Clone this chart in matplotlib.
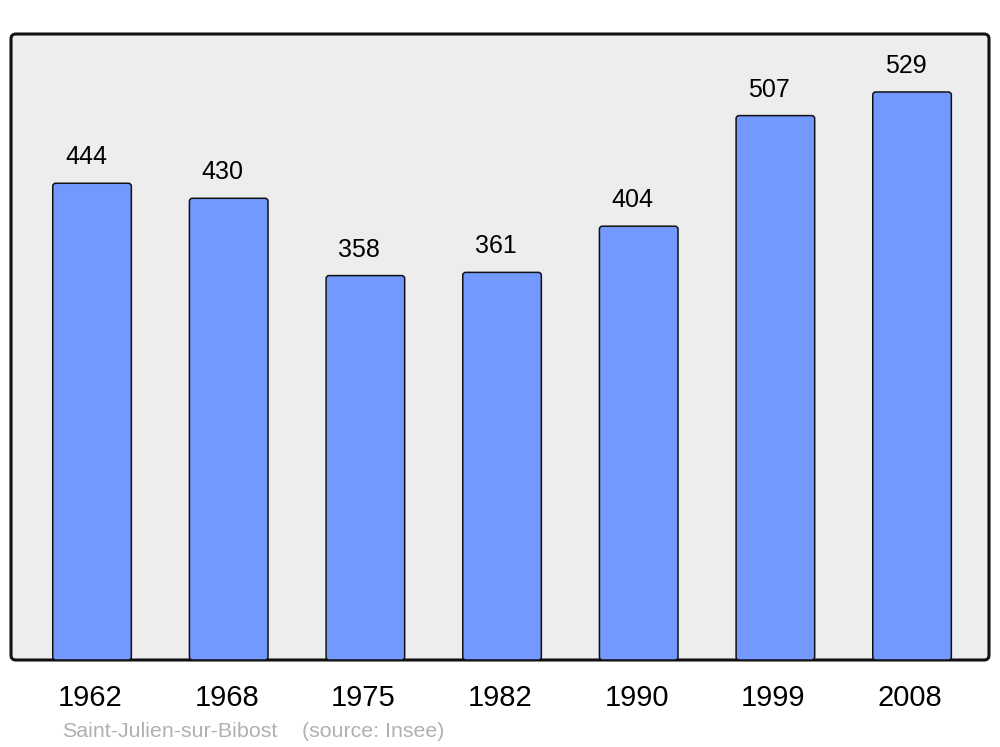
import matplotlib
matplotlib.use("Agg")
import matplotlib.pyplot as plt
import matplotlib.transforms as mtransforms
from matplotlib.patches import FancyBboxPatch

plt.rcParams['font.family'] = ['Liberation Sans', 'DejaVu Sans']

years = ["1962", "1968", "1975", "1982", "1990", "1999", "2008"]
population = [444, 430, 358, 361, 404, 507, 529]
commune = "Saint-Julien-sur-Bibost"
source = "(source: Insee)"

W, H = 1000, 747
fig = plt.figure(figsize=(W / 100, H / 100), dpi=100)
ax = fig.add_axes([11 / W, (H - 660) / H, 978 / W, 626 / H])
ax.set_facecolor('none')
for s in ax.spines.values():
    s.set_visible(False)

xlim = (-0.593, 6.563)
ylim = (0, 583)
ax.set_xlim(*xlim)
ax.set_ylim(*ylim)

# background frame
frame = FancyBboxPatch((0, 0), 1, 1, boxstyle="round,pad=0,rounding_size=0.005",
                       transform=ax.transAxes, facecolor='#ededed', edgecolor='#111111',
                       linewidth=2.2, clip_on=False, zorder=0, mutation_aspect=978 / 626)
ax.add_patch(frame)

x = list(range(len(years)))
bars = ax.bar(x, population, width=0.575, color='none', edgecolor='none')
px_x = (xlim[1] - xlim[0]) / 978
px_y = (ylim[1] - ylim[0]) / 626
for b in bars:
    p = FancyBboxPatch((b.get_x(), b.get_y()), b.get_width(), b.get_height(),
                       boxstyle="round,pad=0,rounding_size=%f" % (3 * px_x),
                       mutation_aspect=px_y / px_x,
                       facecolor='#7399ff', edgecolor='#111111', linewidth=1.1, zorder=2)
    ax.add_patch(p)

for xi, v in zip(x, population):
    ax.annotate(str(v), (xi, v), xytext=(-6, 19), textcoords='offset pixels',
                ha='center', va='baseline', fontsize=18, color='black')

ax.set_xticks(x)
ax.set_xticklabels(years, fontsize=21)
ax.tick_params(axis='x', length=0, pad=17)
ax.set_yticks([])
shift = mtransforms.ScaledTranslation(-2 / 100, 0, fig.dpi_scale_trans)
for lbl in ax.get_xticklabels():
    lbl.set_transform(lbl.get_transform() + shift)

fig.text(62 / W, (H - 737) / H, commune, fontsize=15.4, color='#b0b0b0', va='baseline')
fig.text(302 / W, (H - 737) / H, source, fontsize=15.4, color='#b0b0b0', va='baseline')

fig.savefig('out.png', dpi=100, facecolor='white')
